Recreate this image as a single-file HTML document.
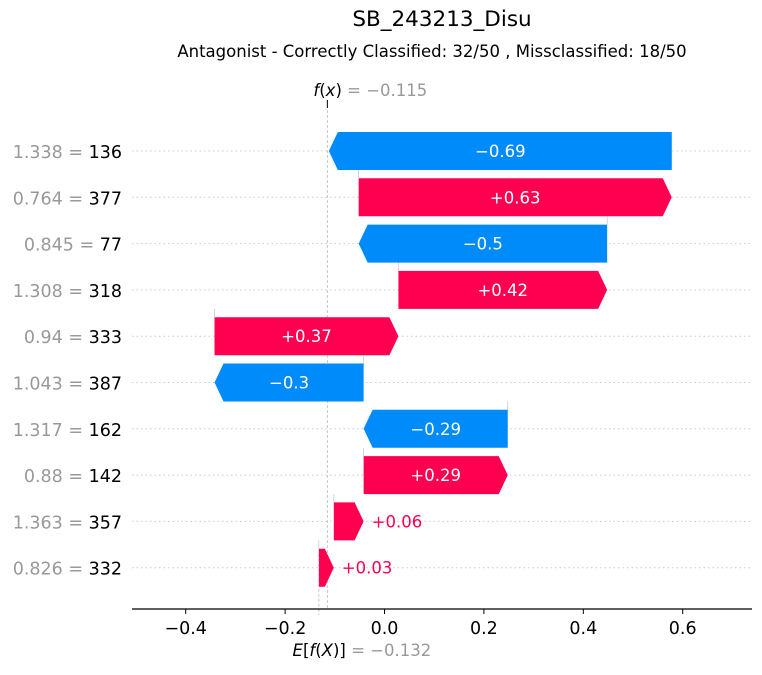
<!DOCTYPE html>
<html><head><meta charset="utf-8"><style>
html,body{margin:0;padding:0;background:#fff;}
svg text{font-family:"DejaVu Sans","Liberation Sans",sans-serif;}
</style></head><body>
<svg id="chart" width="762" height="670" xmlns="http://www.w3.org/2000/svg">
<text x="442" y="26" font-size="21.5" text-anchor="middle" fill="#000">SB_243213_Disu</text>
<text x="432" y="57" font-size="16.5" text-anchor="middle" fill="#000">Antagonist - Correctly Classified: 32/50 , Missclassified: 18/50</text>
<g id="grid"></g><g id="bars"></g><g id="labels"></g>
<line x1="132" y1="609" x2="752" y2="609" stroke="#000" stroke-width="1.2"/>
<g id="xticks"></g>
</svg>
<script>
const features = ["1.338 = |136","0.764 = |377","0.845 = |77","1.308 = |318","0.94 = |333","1.043 = |387","1.317 = |162","0.88 = |142","1.363 = |357","0.826 = |332"];
const shapValues = [-0.69,0.63,-0.5,0.42,0.37,-0.3,-0.29,0.29,0.06,0.03];
const valueLabels = ["\u22120.69","+0.63","\u22120.5","+0.42","+0.37","\u22120.3","\u22120.29","+0.29","+0.06","+0.03"];
const baseValue = -0.132;
const fxValue = -0.115;
const tickValues = [-0.4,-0.2,0,0.2,0.4,0.6];
const tickLabels = ["\u22120.4","\u22120.2","0.0","0.2","0.4","0.6"];

const NS="http://www.w3.org/2000/svg";
const xs=v=>384.5+v*497;
const ys=i=>151+i*46.3;
function mk(t,a,p){const e=document.createElementNS(NS,t);for(const k in a)e.setAttribute(k,a[k]);p.appendChild(e);return e;}
const grid=document.getElementById('grid'),bars=document.getElementById('bars'),labels=document.getElementById('labels'),xt=document.getElementById('xticks');
const n=features.length;
let cum=baseValue;const starts=[];
for(let i=n-1;i>=0;i--){starts[i]=cum;cum+=shapValues[i];}
for(let i=0;i<n;i++){
  const y=ys(i);
  const g=mk('line',{x1:132,x2:752,y1:y,y2:y,stroke:'#ccc','stroke-dasharray':'1.5,3','stroke-width':1},grid);
  
  
  const parts=features[i].split('|');
  const t=mk('text',{x:122,y:y+7,'font-size':17.5,'text-anchor':'end'},labels);
  
  
  const s1=mk('tspan',{fill:'#999'},t);s1.textContent=parts[0];
  const s2=mk('tspan',{fill:'#000'},t);s2.textContent=parts[1];
  const v=shapValues[i],a=xs(starts[i]),b=xs(starts[i]+v);
  const pos=v>0,col=pos?'#ff0051':'#008bfb';
  const h=19,w=Math.abs(b-a),hd=Math.min(9,w*0.6);
  let d;
  if(pos)d=`M${a},${y-h}L${b-hd},${y-h}L${b},${y}L${b-hd},${y+h}L${a},${y+h}Z`;
  else d=`M${a},${y-h}L${b+hd},${y-h}L${b},${y}L${b+hd},${y+h}L${a},${y+h}Z`;
  const p=mk('path',{d:d,fill:col},bars);
  
  
  if(i>0){const c=mk('line',{x1:a,x2:a,y1:y-h,y2:ys(i-1)+h,stroke:'#bbb','stroke-width':0.6},grid);
    
    }
  const inside=w>60;
  const lt=mk('text',{'font-size':16.5,y:y+6},labels);
  
  
  if(inside){lt.setAttribute('x',(a+b)/2);lt.setAttribute('text-anchor','middle');lt.setAttribute('fill','#fff');}
  else{lt.setAttribute('x',(pos?Math.max(a,b):Math.min(a,b)-8)+(pos?8:0));lt.setAttribute('text-anchor',pos?'start':'end');lt.setAttribute('fill',col);}
  lt.textContent=valueLabels[i];
}
const fx=xs(fxValue),bx=xs(baseValue);
let l=mk('line',{x1:fx,x2:fx,y1:100,y2:609,stroke:'#bbb','stroke-dasharray':'3,2','stroke-width':0.8},grid);

l=mk('line',{x1:bx,x2:bx,y1:ys(n-1)-19,y2:615,stroke:'#bbb','stroke-dasharray':'3,2','stroke-width':0.8},grid);

l=mk('line',{x1:fx,x2:fx,y1:100,y2:108,stroke:'#000','stroke-width':1},grid);
let t=mk('text',{x:fx+43,y:96,'font-size':16.5,'text-anchor':'middle'},labels);

t.innerHTML='<tspan font-style="italic">f</tspan>(<tspan font-style="italic">x</tspan>)<tspan fill="#999"> = \u22120.115</tspan>';
t=mk('text',{x:bx+43,y:656,'font-size':16.5,'text-anchor':'middle'},labels);

t.innerHTML='<tspan font-style="italic">E</tspan>[<tspan font-style="italic">f</tspan>(<tspan font-style="italic">X</tspan>)]<tspan fill="#999"> = \u22120.132</tspan>';
for(let k=0;k<tickValues.length;k++){
  const x=xs(tickValues[k]);
  const tk=mk('line',{x1:x,x2:x,y1:609,y2:614,stroke:'#000','stroke-width':1},xt);
  
  const tl=mk('text',{x:x,y:634,'font-size':17.5,'text-anchor':'middle',fill:'#000'},xt);
  
  tl.textContent=tickLabels[k];
}
</script>
</body></html>
